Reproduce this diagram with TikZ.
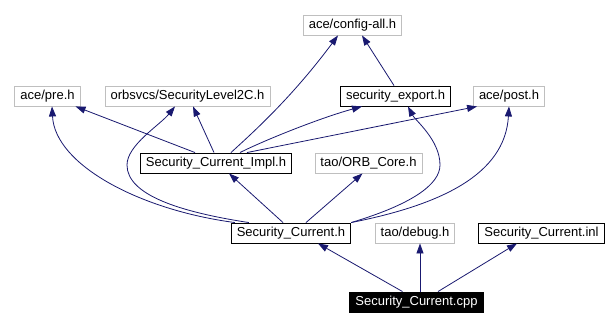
\documentclass[tikz,border=0pt]{standalone}
\usepackage{fontspec}
\setmainfont{Liberation Sans}
\usetikzlibrary{arrows.meta,positioning}
\definecolor{edgeblue}{HTML}{191970}
\definecolor{extgray}{HTML}{BFBFBF}
\tikzset{
  filenode/.style={draw=black,line width=0.9pt,fill=white,minimum height=20pt,inner xsep=5.5pt,inner ysep=0pt,text height=9.5pt,text depth=2.7pt,font=\fontsize{13}{15}\selectfont},
  extnode/.style={filenode,draw=extgray},
  rootnode/.style={filenode,fill=black,text=white},
  dep/.style={-{Triangle[length=10pt,width=7pt]},line width=0.8pt,edgeblue}
}

\begin{document}
\begin{tikzpicture}[x=1pt,y=-1pt]
  \fill[white] (0,0) rectangle (616,326);
  \useasboundingbox (0,0) rectangle (616,326);

  % Headers
  \node[extnode] (config) at (352.5,25) {ace/config-all.h};
  \node[extnode] (pre) at (47.5,96) {ace/pre.h};
  \node[extnode] (sl2c) at (187.5,96) {orbsvcs/SecurityLevel2C.h};
  \node[filenode] (export) at (395.5,96) {security\_export.h};
  \node[extnode] (post) at (509,96) {ace/post.h};
  \node[filenode] (impl) at (216,163) {Security\_Current\_Impl.h};
  \node[extnode] (orb) at (368.5,163) {tao/ORB\_Core.h};
  \node[filenode] (current) at (291,233) {Security\_Current.h};
  \node[extnode] (debug) at (415,233) {tao/debug.h};
  \node[filenode] (inl) at (541.5,233) {Security\_Current.inl};
  \node[rootnode] (cpp) at (416.5,302) {Security\_Current.cpp};

  % Security_Current.cpp
  \draw[dep] ([xshift=-14pt]cpp.north) -- ([xshift=27pt]current.south);
  \draw[dep] ([xshift=5pt]debug.south |- cpp.north) -- ([xshift=5pt]debug.south);
  \draw[dep] ([xshift=21.5pt]cpp.north) -- ([xshift=-24.5pt]inl.south);

  % Security_Current.h
  \draw[dep] ([xshift=-8pt]current.north) -- ([xshift=13pt]impl.south);
  \draw[dep] ([xshift=15pt]current.north) -- ([xshift=-6pt]orb.south);
  \draw[dep] ([xshift=4pt]current.north west) .. controls (140,210) and (55,165) .. ([xshift=4.5pt]pre.south);
  \draw[dep] ([xshift=18pt]current.north west) .. controls (180,212) and (127,195) .. (127,165)
    .. controls (127,145) and (160,125) .. ([xshift=-12.5pt]sl2c.south);
  \draw[dep] (current.north east) .. controls (410,205) and (440,185) .. (440,165)
    .. controls (440,140) and (415,120) .. ([xshift=12.5pt]export.south);
  \draw[dep] (current.north east) .. controls (440,205) and (505,175) .. (post.south);

  % Security_Current_Impl.h
  \draw[dep] ([xshift=-21pt]impl.north) -- ([xshift=-5pt]pre.south east);
  \draw[dep] ([xshift=-2pt]impl.north) -- ([xshift=5.5pt]sl2c.south);
  \draw[dep] ([xshift=15pt]impl.north) .. controls (250,135) and (290,100) .. ([xshift=-14.5pt]config.south);
  \draw[dep] ([xshift=24pt]impl.north) .. controls (265,140) and (320,118) .. ([xshift=-33.5pt]export.south);
  \draw[dep] ([xshift=31pt]impl.north) -- ([xshift=4pt]post.south west);

  % security_export.h
  \draw[dep] ([xshift=-1.5pt]export.north) -- ([xshift=9.5pt]config.south);
\end{tikzpicture}
\end{document}
